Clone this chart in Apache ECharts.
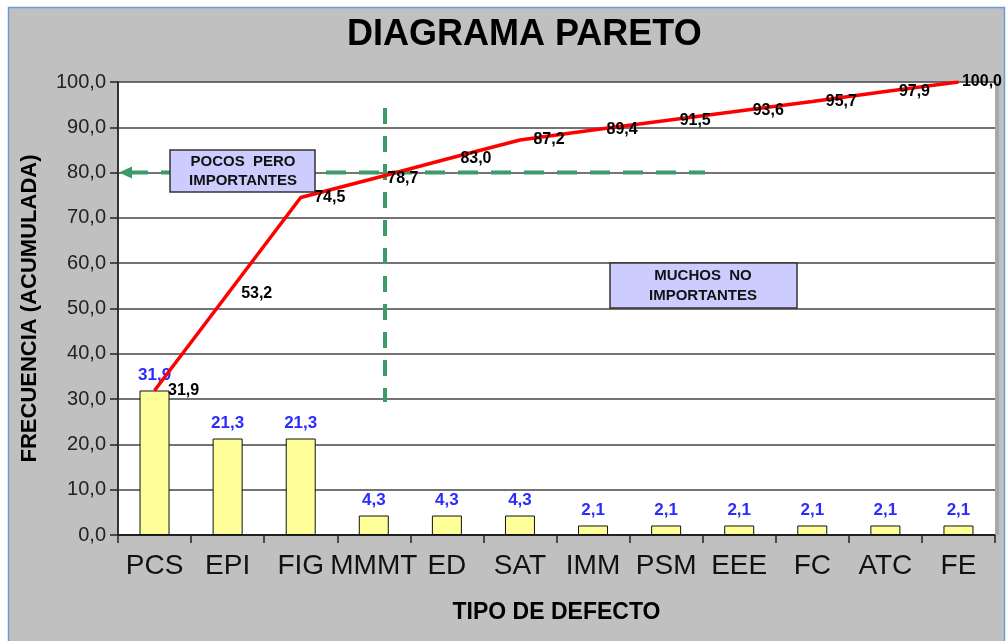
<!DOCTYPE html>
<html>
<head>
<meta charset="utf-8">
<script src="https://cdn.jsdelivr.net/npm/echarts@6/dist/echarts.min.js"></script>
<style>
  body { margin: 0; background: #fff; }
  #main { width: 1008px; height: 641px; }
</style>
</head>
<body>
<div id="main"></div>
<script>
  var categories = ['PCS', 'EPI', 'FIG', 'MMMT', 'ED', 'SAT', 'IMM', 'PSM', 'EEE', 'FC', 'ATC', 'FE'];
  var frecuencia = [31.9, 21.3, 21.3, 4.3, 4.3, 4.3, 2.1, 2.1, 2.1, 2.1, 2.1, 2.1];
  var acumulada = [31.9, 53.2, 74.5, 78.7, 83.0, 87.2, 89.4, 91.5, 93.6, 95.7, 97.9, 100.0];
  var corte = 80;

  var font = 'Liberation Sans, Arial, sans-serif';
  function coma(v) { return Number(v).toFixed(1).replace('.', ','); }

  // el ultimo punto lleva la etiqueta pegada a la linea
  var acumData = acumulada.map(function (v, i) {
    if (i === acumulada.length - 1) {
      return { value: v, label: { distance: 3, offset: [0, -1] } };
    }
    return v;
  });

  var myChart = echarts.init(document.getElementById('main'));
  var option = {
    backgroundColor: '#fff',
    animation: false,
    title: {
      text: 'DIAGRAMA PARETO',
      left: 342,
      top: 12,
      textStyle: { fontFamily: font, fontSize: 36, fontWeight: 'bold', color: '#000' }
    },
    grid: {
      left: 118, top: 82, right: 13, bottom: 106,
      show: true, backgroundColor: '#fff', borderWidth: 0
    },
    xAxis: {
      type: 'category',
      data: categories,
      name: 'TIPO DE DEFECTO',
      nameLocation: 'middle',
      nameGap: 66,
      nameTextStyle: { fontFamily: font, fontSize: 23, fontWeight: 'bold', color: '#000' },
      axisLine: { lineStyle: { color: '#222', width: 2 } },
      axisTick: { show: true, length: 8, lineStyle: { color: '#222', width: 1.5 } },
      axisLabel: { fontFamily: font, fontSize: 28, color: '#111', margin: 17, interval: 0 }
    },
    yAxis: {
      type: 'value',
      min: 0, max: 100, interval: 10,
      name: 'FRECUENCIA (ACUMULADA)',
      nameLocation: 'middle',
      nameRotate: 90,
      nameGap: 77,
      nameTextStyle: { fontFamily: font, fontSize: 22, fontWeight: 'bold', color: '#000' },
      axisLine: { show: true, lineStyle: { color: '#333', width: 2 } },
      axisTick: { show: true, length: 8, lineStyle: { color: '#222', width: 1.5 } },
      axisLabel: { fontFamily: font, fontSize: 20, color: '#222', margin: 12, formatter: coma },
      splitLine: { lineStyle: { color: '#444', width: 1.5 } }
    },
    series: [
      {
        name: 'Frecuencia',
        type: 'bar',
        data: frecuencia,
        barWidth: 30,
        itemStyle: { color: '#ffff99', borderColor: '#111', borderWidth: 1 },
        label: {
          show: true, position: 'top', distance: 7,
          fontFamily: font, fontSize: 17, fontWeight: 'bold', color: '#2b2bff',
          formatter: function (p) { return coma(p.value); }
        },
        z: 2
      },
      {
        name: 'Acumulada',
        type: 'line',
        data: acumData,
        symbol: 'circle',
        symbolSize: 1,
        showSymbol: true,
        itemStyle: { color: '#ff0000' },
        lineStyle: { color: '#ff0000', width: 3.5 },
        label: {
          show: true, position: 'right', distance: 13, offset: [0, 2],
          fontFamily: font, fontSize: 16, fontWeight: 'bold', color: '#000',
          formatter: function (p) { return coma(p.value); }
        },
        labelLayout: { hideOverlap: false },
        z: 6
      }
    ]
  };
  myChart.setOption(option);

  // anotaciones
  var y80 = myChart.convertToPixel({ yAxisIndex: 0 }, corte);
  var yTop = myChart.convertToPixel({ yAxisIndex: 0 }, 100);
  var yBase = myChart.convertToPixel({ yAxisIndex: 0 }, 0);
  var green = '#3a9a68';
  var boxStyle = { fill: '#ccccff', stroke: '#333', lineWidth: 1.5 };
  var boxText = { fontFamily: font, fontSize: 15, fontWeight: 'bold', fill: '#111', textAlign: 'center', textVerticalAlign: 'middle' };

  myChart.setOption({
    graphic: [
      { type: 'rect', z: -10, silent: true, shape: { x: 8.5, y: 7.5, width: 996, height: 640 },
        style: { fill: '#c0c0c0', stroke: '#6d9bd5', lineWidth: 1.5 } },
      { type: 'rect', z: -5, silent: true, shape: { x: 118, y: yTop, width: 877, height: yBase - yTop },
        style: { fill: '#fff' } },
      { type: 'rect', z: 1, silent: true, shape: { x: 995, y: yTop, width: 4, height: yBase - yTop },
        style: { fill: '#a8a8a8' } },
      { type: 'line', z: 5, silent: true, shape: { x1: 128, y1: y80, x2: 705, y2: y80 },
        style: { stroke: green, lineWidth: 4, lineDash: [20, 13] } },
      { type: 'polygon', z: 5, silent: true, shape: { points: [[119, y80], [132, y80 - 6], [132, y80 + 6]] },
        style: { fill: green } },
      { type: 'line', z: 5, silent: true, shape: { x1: 385, y1: 108, x2: 385, y2: 402 },
        style: { stroke: green, lineWidth: 4, lineDash: [16, 12] } },
      { type: 'rect', z: 7, silent: true, shape: { x: 170, y: 150, width: 145, height: 42 }, style: boxStyle },
      { type: 'text', z: 8, silent: true, x: 243, y: 162, style: Object.assign({ text: 'POCOS  PERO' }, boxText) },
      { type: 'text', z: 8, silent: true, x: 243, y: 181, style: Object.assign({ text: 'IMPORTANTES' }, boxText) },
      { type: 'rect', z: 7, silent: true, shape: { x: 610, y: 263, width: 187, height: 45 }, style: boxStyle },
      { type: 'text', z: 8, silent: true, x: 703, y: 276, style: Object.assign({ text: 'MUCHOS  NO' }, boxText) },
      { type: 'text', z: 8, silent: true, x: 703, y: 296, style: Object.assign({ text: 'IMPORTANTES' }, boxText) }
    ]
  });
</script>
</body>
</html>
